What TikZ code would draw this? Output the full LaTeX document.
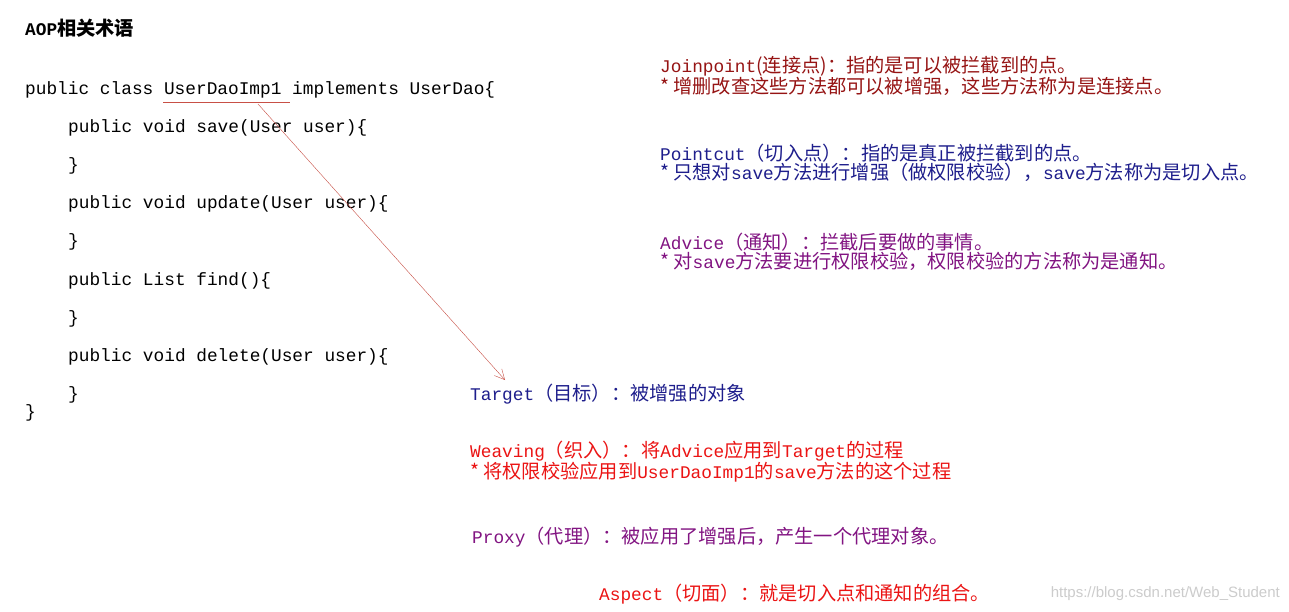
\documentclass[tikz,border=0pt]{standalone}
\usepackage{fontspec}
\setmainfont{Liberation Mono}
\newfontfamily\cjk[Scale=1.08]{Noto Sans CJK SC}
\newfontfamily\wm{Liberation Sans}
\usetikzlibrary{arrows.meta}
\definecolor{jred}{RGB}{150,20,20}
\definecolor{navy}{RGB}{30,30,140}
\definecolor{purp}{RGB}{130,20,130}
\definecolor{bred}{RGB}{235,20,20}
\definecolor{arr}{RGB}{200,80,70}
\begin{document}
\begin{tikzpicture}[x=1pt,y=-1pt,
  t/.style={anchor=west,inner sep=0pt,font=\fontsize{17.8}{19}\selectfont},
  c/.style={t,text=black},
  cn/.style={t,align=left}]
\useasboundingbox[fill=white] (0,0) rectangle (1289,612);
\node[c] (title) at (25,28) {\bfseries AOP{\cjk 相关术语}};
\node[c] (l1) at (25,90) {public class UserDaoImp1 implements UserDao\{};
\node[c] (l2) at (68,128) {public void save(User user)\{};
\node[c] (l3) at (68,166) {\}};
\node[c] (l4) at (68,204) {public void update(User user)\{};
\node[c] (l5) at (68,242) {\}};
\node[c] (l6) at (68,281) {public List find()\{};
\node[c] (l7) at (68,319) {\}};
\node[c] (l8) at (68,357) {public void delete(User user)\{};
\node[c] (l9) at (68,395) {\}};
\node[c] (l10) at (25,413) {\}};
\coordinate (u1) at (163,102); \coordinate (u2) at (290,102);
\draw[arr,thin] (u1) -- (u2);
\coordinate (a0) at (258,104);
\node[cn,text=navy] (target) at (470,394) {Target{\cjk （目标）：被增强的对象}};
\draw[arr,thin,-{Straight Barb[length=10pt,width=10pt]}] (a0) -- (505,380);
\node[cn,text=jred] (jp) at (660,76) {Joinpoint{\cjk (连接点)：指的是可以被拦截到的点。}\\{\cjk *\ 增删改查这些方法都可以被增强，这些方法称为是连接点。}};
\node[cn,text=navy] (pc) at (660,163) {Pointcut{\cjk （切入点）：指的是真正被拦截到的点。}\\{\cjk *\ 只想对}save{\cjk 方法进行增强（做权限校验），}save{\cjk 方法称为是切入点。}};
\node[cn,text=purp] (ad) at (660,252) {Advice{\cjk （通知）：拦截后要做的事情。}\\{\cjk *\ 对}save{\cjk 方法要进行权限校验，权限校验的方法称为是通知。}};
\node[cn,text=bred] (wv) at (470,462) {Weaving{\cjk （织入）：将}Advice{\cjk 应用到}Target{\cjk 的过程}\\{\cjk *\ 将权限校验应用到}UserDaoImp1{\cjk 的}save{\cjk 方法的这个过程}};
\node[cn,text=purp] (px) at (472,537) {Proxy{\cjk （代理）：被应用了增强后，产生一个代理对象。}};
\node[cn,text=bred] (as) at (599,594) {Aspect{\cjk （切面）：就是切入点和通知的组合。}};
\node[anchor=east,inner sep=0pt,text=black!20,font=\wm\fontsize{15}{17}\selectfont] (wmk) at (1280,594) {https://blog.csdn.net/Web\_Student};
\end{tikzpicture}
\end{document}
